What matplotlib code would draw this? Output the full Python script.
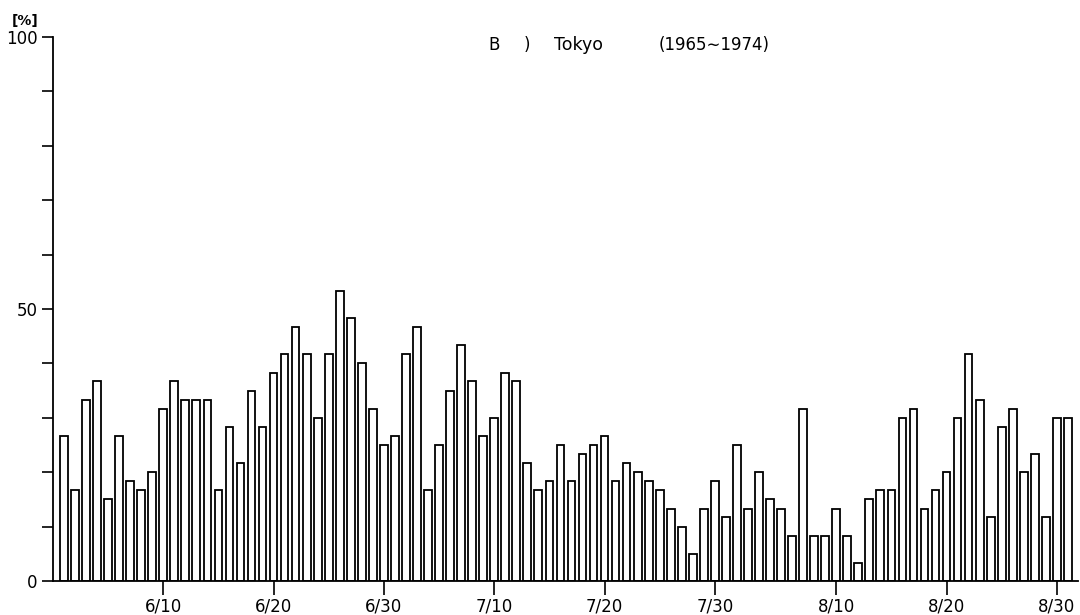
import numpy as np
import matplotlib
matplotlib.use("Agg")
import matplotlib.pyplot as plt

# daily percentages, 6/1 .. 8/31
june = [26.7, 16.7, 33.3, 36.7, 15.0, 26.7, 18.3, 16.7, 20.0, 31.7,
        36.7, 33.3, 33.3, 33.3, 16.7, 28.3, 21.7, 35.0, 28.3, 38.3,
        41.7, 46.7, 41.7, 30.0, 41.7, 53.3, 48.3, 40.0, 31.7, 25.0]
july = [26.7, 41.7, 46.7, 16.7, 25.0, 35.0, 43.3, 36.7, 26.7, 30.0,
        38.3, 36.7, 21.7, 16.7, 18.3, 25.0, 18.3, 23.3, 25.0, 26.7,
        18.3, 21.7, 20.0, 18.3, 16.7, 13.3, 10.0, 5.0, 13.3, 18.3, 11.7]
august = [25.0, 13.3, 20.0, 15.0, 13.3, 8.3, 31.7, 8.3, 8.3, 13.3,
          8.3, 3.3, 15.0, 16.7, 16.7, 30.0, 31.7, 13.3, 16.7, 20.0,
          30.0, 41.7, 33.3, 11.7, 28.3, 31.7, 20.0, 23.3, 11.7, 30.0, 30.0]

tick_days = [9, 19, 29, 39, 49, 59, 70, 80, 90]
tick_labels = ["6/10", "6/20", "6/30", "7/10", "7/20", "7/30", "8/10", "8/20", "8/30"]

values = june + july + august
xx = np.arange(len(values))

fig = plt.figure(figsize=(10.8, 6.15), dpi=100)
ax = fig.add_axes([0.049, 0.0553, 0.949, 0.8846])

ax.bar(xx, values, width=0.7, color="white", edgecolor="black", linewidth=1.3)

ax.set_xlim(-1.0, 91.9)
ax.set_ylim(0, 100)

for s in ["top", "right"]:
    ax.spines[s].set_visible(False)
ax.spines["left"].set_linewidth(1.3)
ax.spines["bottom"].set_linewidth(1.3)

ax.set_yticks([0, 50, 100])
ax.set_yticklabels(["0", "50", "100"], fontsize=12)
ax.set_yticks(np.arange(0, 101, 10), minor=True)
ax.tick_params(axis="y", which="major", length=8, width=1.2, pad=3)
ax.tick_params(axis="y", which="minor", length=8, width=1.2)

ax.set_xticks(tick_days)
ax.set_xticklabels(tick_labels, fontsize=12)
ax.tick_params(axis="x", which="major", length=10, width=1.2, pad=2)

fig.text(0.011, 0.966, "[%]", fontsize=10, fontweight="bold", ha="left", va="center")

fig.text(0.452, 0.927, "B", fontsize=12, ha="left", va="center")
fig.text(0.485, 0.927, ")", fontsize=12, ha="left", va="center")
fig.text(0.513, 0.927, "Tokyo", fontsize=12.5, ha="left", va="center")
fig.text(0.610, 0.927, "(1965\u223c1974)", fontsize=12, ha="left", va="center")

fig.savefig("out.png", dpi=100)
